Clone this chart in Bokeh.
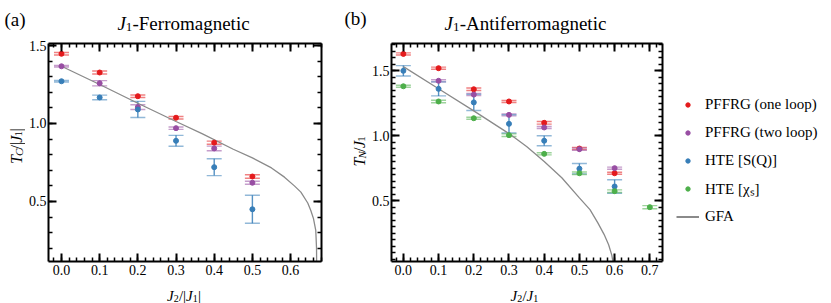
import numpy as np
from bokeh.plotting import figure
from bokeh.models import (ColumnDataSource, Whisker, TeeHead, LinearAxis, SingleIntervalTicker,
                          PrintfTickFormatter, Label, Legend, LegendItem, Range1d)
from bokeh.layouts import row, column
from bokeh.embed import file_html
from bokeh.resources import INLINE

# ---------------- data ----------------
# (a) J1-Ferromagnetic
fm_x = [0.0, 0.1, 0.2, 0.3, 0.4, 0.5]
fm_one_loop = [1.447, 1.327, 1.175, 1.037, 0.877, 0.660]
fm_one_loop_err = [0.008, 0.010, 0.008, 0.008, 0.010, 0.011]
fm_two_loop = [1.367, 1.258, 1.105, 0.970, 0.840, 0.620]
fm_two_loop_err = [0.005, 0.017, 0.015, 0.008, 0.015, 0.010]
fm_hte_sq = [1.271, 1.167, 1.090, 0.889, 0.720, 0.450]
fm_hte_sq_err = [0.005, 0.015, 0.052, 0.035, 0.054, 0.090]
fm_gfa_x = [0.0, 0.1, 0.2, 0.3, 0.368, 0.45, 0.5, 0.55, 0.584, 0.61, 0.627, 0.645, 0.653, 0.66, 0.666, 0.668, 0.6685]
fm_gfa_y = [1.367, 1.250, 1.130, 1.013, 0.935, 0.835, 0.780, 0.715, 0.656, 0.600, 0.560, 0.490, 0.442, 0.390, 0.314, 0.200, 0.0]

# (b) J1-Antiferromagnetic
afm_one_x = [0.0, 0.1, 0.2, 0.3, 0.4, 0.5, 0.6]
afm_one_loop = [1.628, 1.518, 1.356, 1.262, 1.098, 0.900, 0.710]
afm_one_loop_err = [0.008, 0.008, 0.010, 0.008, 0.010, 0.008, 0.008]
afm_two_x = [0.1, 0.2, 0.3, 0.4, 0.5, 0.6]
afm_two_loop = [1.421, 1.315, 1.159, 1.062, 0.895, 0.749]
afm_two_loop_err = [0.008, 0.008, 0.008, 0.008, 0.008, 0.008]
afm_sq_x = [0.0, 0.1, 0.2, 0.3, 0.4, 0.5, 0.6]
afm_hte_sq = [1.498, 1.359, 1.255, 1.090, 0.960, 0.745, 0.608]
afm_hte_sq_err = [0.040, 0.054, 0.062, 0.070, 0.038, 0.040, 0.052]
afm_chi_x = [0.0, 0.1, 0.2, 0.3, 0.4, 0.5, 0.6, 0.7]
afm_hte_chi = [1.379, 1.262, 1.133, 1.003, 0.859, 0.710, 0.572, 0.449]
afm_hte_chi_err = [0.008, 0.010, 0.008, 0.010, 0.008, 0.010, 0.010, 0.012]
afm_gfa_x = [0.0, 0.1, 0.2, 0.3, 0.35, 0.4, 0.45, 0.5, 0.53, 0.552, 0.57, 0.583, 0.592, 0.597]
afm_gfa_y = [1.530, 1.360, 1.190, 1.015, 0.915, 0.800, 0.675, 0.520, 0.430, 0.330, 0.240, 0.160, 0.080, 0.0]

series_names = ["PFFRG (one loop)", "PFFRG (two loop)", "HTE [S(Q)]", "HTE [\u03c7\u209b]", "GFA"]

# ---------------- style ----------------
FONT = "Liberation Serif"
RED, PURPLE, BLUE, GREEN, GRAY = "#e41a1c", "#984ea3", "#377eb8", "#4daf4a", "#8a8a8a"
SERIES_COLORS = [RED, PURPLE, BLUE, GREEN]
ROW_H = 246

W_REG = {'0': .5, '1': .5, '2': .5, '.': .25, '/': .278, '|': .2, '-': .333, '(': .333, ')': .333,
         'a': .444, 'b': .5, 'c': .444, 'e': .444, 'g': .5, 'i': .278, 'm': .778, 'n': .5, 'o': .5,
         'r': .333, 't': .278, 'f': .333, 'F': .556, 'A': .722}
W_IT = {'J': .444, 'T': .556, 'C': .667, 'N': .667}
SUB = 0.7


def tw(text, italic, size):
    tab = W_IT if italic else W_REG
    return sum(tab.get(ch, 0.5) for ch in text) * size


def rich(p, pieces, x, y, size, angle=0.0, anchor="left", drop_frac=0.2):
    """Place a run of text pieces (text, italic, subscript) in a strip figure (data units = px)."""
    widths = [tw(t, it, size * (SUB if sb else 1.0)) for t, it, sb in pieces]
    total = sum(widths)
    pos = -total / 2 if anchor == "center" else 0.0
    for (t, it, sb), w in zip(pieces, widths):
        s = size * SUB if sb else size
        drop = size * drop_frac if sb else 0.0
        if angle == 0.0:
            lx, ly = x + pos, y - drop
        else:
            lx, ly = x + drop, y + pos
        p.add_layout(Label(x=lx, y=ly, text=t, angle=angle,
                           text_font=FONT, text_font_style="italic" if it else "normal",
                           text_font_size=f"{round(s)}px", text_baseline="alphabetic",
                           text_align="left", text_color="black"))
        pos += w


def strip(width, height):
    s = figure(width=width, height=height, x_range=Range1d(0, width), y_range=Range1d(0, height),
               output_backend="svg", toolbar_location=None, title=None,
               x_axis_type=None, y_axis_type=None, min_border=0)
    s.xgrid.visible = False
    s.ygrid.visible = False
    s.outline_line_color = None
    return s


def style_axis(ax, ticker, show):
    ax.ticker = ticker
    ax.axis_line_width = 2
    ax.axis_line_color = "black"
    ax.major_tick_in = 8
    ax.major_tick_out = 0
    ax.minor_tick_in = 4
    ax.minor_tick_out = 0
    ax.major_tick_line_width = 2
    ax.minor_tick_line_width = 1.5
    ax.major_label_text_font = FONT
    ax.major_label_text_font_size = "14px"
    ax.major_label_text_color = "black"
    if show:
        ax.formatter = PrintfTickFormatter(format="%.1f")
    else:
        ax.major_label_text_color = None
        ax.major_label_text_font_size = "0px"
        ax.major_label_standoff = 0


def make_fig(width, xr, yr, yminor, bl, br):
    p = figure(width=width, height=ROW_H, x_range=Range1d(*xr), y_range=Range1d(*yr),
               output_backend="svg", toolbar_location=None, title=None)
    p.min_border_left = bl
    p.min_border_right = br
    p.min_border_top = 8
    p.min_border_bottom = 20
    p.xgrid.visible = False
    p.ygrid.visible = False
    p.outline_line_color = None
    xt = SingleIntervalTicker(interval=0.1, num_minor_ticks=5)
    yt = SingleIntervalTicker(interval=0.5, num_minor_ticks=yminor)
    style_axis(p.xaxis[0], xt, True)
    p.xaxis[0].major_label_standoff = 3
    style_axis(p.yaxis[0], yt, True)
    p.yaxis[0].major_label_standoff = 2
    top = LinearAxis()
    style_axis(top, xt, False)
    p.add_layout(top, "above")
    right = LinearAxis()
    style_axis(right, yt, False)
    p.add_layout(right, "right")
    return p


def errpoints(p, x, y, e, color):
    x = np.asarray(x, float)
    y = np.asarray(y, float)
    e = np.asarray(e, float)
    src = ColumnDataSource(dict(x=x, y=y, up=y + e, lo=y - e))
    w = Whisker(source=src, base="x", upper="up", lower="lo", dimension="height",
                line_color=color, line_alpha=0.85, line_width=1.4,
                upper_head=TeeHead(size=15, line_color=color, line_alpha=0.55, line_width=1.4),
                lower_head=TeeHead(size=15, line_color=color, line_alpha=0.55, line_width=1.4))
    p.add_layout(w)
    return p.scatter("x", "y", source=src, size=5, fill_color=color, line_color=color,
                     marker="circle")


# ---------------- panel (a) ----------------
p1 = make_fig(320, (-0.034, 0.681), (0.115, 1.513), 5, 20, 24)
p1.line(fm_gfa_x, fm_gfa_y, line_color=GRAY, line_width=1.3)
errpoints(p1, fm_x, fm_one_loop, fm_one_loop_err, RED)
errpoints(p1, fm_x, fm_two_loop, fm_two_loop_err, PURPLE)
errpoints(p1, fm_x, fm_hte_sq, fm_hte_sq_err, BLUE)

# ---------------- panel (b) ----------------
p2 = make_fig(300, (-0.0337, 0.736), (0.031, 1.708), 10, 20, 6)
p2.line(afm_gfa_x, afm_gfa_y, line_color=GRAY, line_width=1.3)
errpoints(p2, afm_one_x, afm_one_loop, afm_one_loop_err, RED)
errpoints(p2, afm_two_x, afm_two_loop, afm_two_loop_err, PURPLE)
errpoints(p2, afm_sq_x, afm_hte_sq, afm_hte_sq_err, BLUE)
errpoints(p2, afm_chi_x, afm_hte_chi, afm_hte_chi_err, GREEN)

# ---------------- legend strip (key renderers hold no visible data) ----------------
leg_strip = strip(163, ROW_H)
nan = np.array([np.nan])
keys = [leg_strip.scatter(x=nan, y=nan, size=5, fill_color=c, line_color=c, marker="circle")
        for c in SERIES_COLORS]
keys.append(leg_strip.line(x=nan, y=nan, line_color=GRAY, line_width=2))
legend = Legend(items=[LegendItem(label=n, renderers=[r]) for n, r in zip(series_names, keys)],
                location=(8, 35), orientation="vertical")
legend.label_text_font = FONT
legend.label_text_font_size = "15px"
legend.label_text_color = "black"
legend.glyph_width = 23
legend.glyph_height = 11
legend.label_height = 20
legend.spacing = 8
legend.padding = 5
legend.margin = 0
legend.label_standoff = 6
legend.border_line_color = None
legend.background_fill_alpha = 0
leg_strip.add_layout(legend, "center")

# ---------------- text strips ----------------
top_strip = strip(831, 35)
rich(top_strip, [("(a)", False, False)], 4, 16.5, 19)
rich(top_strip, [("J", True, False), ("1", False, True), ("-Ferromagnetic", False, False)],
     183, 12, 19, anchor="center")
rich(top_strip, [("(b)", False, False)], 344, 17.5, 19)
rich(top_strip, [("J", True, False), ("1", False, True), ("-Antiferromagnetic", False, False)],
     525, 12, 19, anchor="center")

ylab_a = strip(25, ROW_H)
rich(ylab_a, [("T", True, False), ("C", True, True), ("/|", False, False), ("J", True, False),
              ("1", False, True), ("|", False, False)], 16, 130, 16, angle=np.pi / 2,
     anchor="center", drop_frac=0.15)
ylab_b = strip(23, ROW_H)
rich(ylab_b, [("T", True, False), ("N", True, True), ("/", False, False), ("J", True, False),
              ("1", False, True)], 14, 124, 16, angle=np.pi / 2, anchor="center", drop_frac=0.15)

bottom_strip = strip(831, 22)
rich(bottom_strip, [("J", True, False), ("2", False, True), ("/|", False, False), ("J", True, False),
                    ("1", False, True), ("|", False, False)], 183.5, 8, 15, anchor="center")
rich(bottom_strip, [("J", True, False), ("2", False, True), ("/", False, False), ("J", True, False),
                    ("1", False, True)], 524, 8, 15, anchor="center")

layout = column(top_strip, row(ylab_a, p1, ylab_b, p2, leg_strip), bottom_strip)
open("out.html", "w").write(file_html(layout, INLINE))
